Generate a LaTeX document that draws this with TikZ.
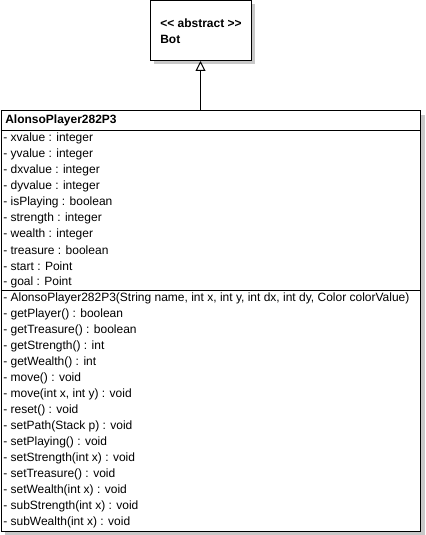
\documentclass[tikz,border=0pt]{standalone}
\usepackage{fontspec}
\setmainfont{Liberation Sans}
\usetikzlibrary{arrows.meta}
\definecolor{shadowgray}{HTML}{C8C8C8}
\tikzset{
  classbox/.style={draw=black, fill=white, line width=0.75pt, inner sep=0pt},
  member/.style={anchor=west, inner sep=0pt, font=\fontsize{9pt}{10pt}\selectfont},
  heading/.style={anchor=west, inner sep=0pt, font=\fontsize{9pt}{10pt}\selectfont\bfseries},
  sepline/.style={line width=0.75pt},
  inherit/.style={line width=0.75pt, -{Triangle[open, width=7.5pt, length=7.5pt, line width=0.75pt]}}
}
\begin{document}
\begin{tikzpicture}[x=0.75pt, y=-0.75pt]
\useasboundingbox (0,0) rectangle (425,535);
% shadows
\fill[shadowgray] (154,4) rectangle (255,64);
\fill[shadowgray] (5,115) rectangle (425,535);
% Bot class
\node[classbox, minimum width=75.75pt, minimum height=45pt] (bot) at (200.5,30.5) {};
\node[heading] (botst) at (160,23) {<\kern0pt< abstract >\kern0pt>};
\node[heading] (botname) at (160,39) {Bot};
% main class
\node[classbox, minimum width=314.6pt, minimum height=315.4pt] (main) at (210.75,320.75) {};
\coordinate (s1) at (0,130.5);
\coordinate (s2) at (0,290.5);
\draw[sepline] (main.west |- s1) -- (main.east |- s1);
\draw[sepline] (main.west |- s2) -- (main.east |- s2);
\node[heading] (title) at (5,120) {AlonsoPlayer282P3};
% attributes
\node[member] (a0) at (3,138) {- xvalue : integer};
\node[member] (a1) at (3,154) {- yvalue : integer};
\node[member] (a2) at (3,170) {- dxvalue : integer};
\node[member] (a3) at (3,186) {- dyvalue : integer};
\node[member] (a4) at (3,202) {- isPlaying : boolean};
\node[member] (a5) at (3,218) {- strength : integer};
\node[member] (a6) at (3,234) {- wealth : integer};
\node[member] (a7) at (3,250) {- treasure : boolean};
\node[member] (a8) at (3,266) {- start : Point};
\node[member] (a9) at (3,282) {- goal : Point};
% methods
\node[member] (m0) at (3,298) {- AlonsoPlayer282P3(String name, int x, int y, int dx, int dy, Color colorValue)};
\node[member] (m1) at (3,314) {- getPlayer() : boolean};
\node[member] (m2) at (3,330) {- getTreasure() : boolean};
\node[member] (m3) at (3,346) {- getStrength() : int};
\node[member] (m4) at (3,362) {- getWealth() : int};
\node[member] (m5) at (3,378) {- move() : void};
\node[member] (m6) at (3,394) {- move(int x, int y) : void};
\node[member] (m7) at (3,410) {- reset() : void};
\node[member] (m8) at (3,426) {- setPath(Stack p) : void};
\node[member] (m9) at (3,442) {- setPlaying() : void};
\node[member] (m10) at (3,458) {- setStrength(int x) : void};
\node[member] (m11) at (3,474) {- setTreasure() : void};
\node[member] (m12) at (3,490) {- setWealth(int x) : void};
\node[member] (m13) at (3,506) {- subStrength(int x) : void};
\node[member] (m14) at (3,522) {- subWealth(int x) : void};
% inheritance
\draw[inherit] (main.north -| bot.south) -- (bot.south);
\end{tikzpicture}
\end{document}
